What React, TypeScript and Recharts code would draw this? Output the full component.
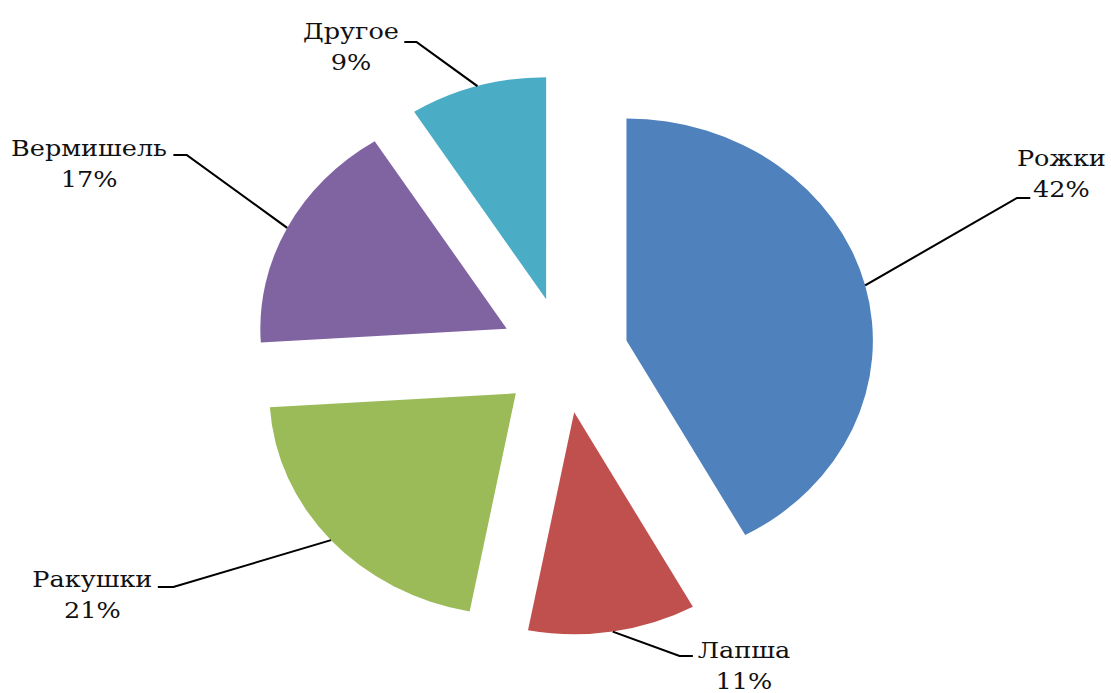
import { PieChart, Pie } from "recharts";

// pasta sales share, %
const CATEGORIES = ["Рожки", "Лапша", "Ракушки", "Вермишель", "Другое"];
const SHARES = [42, 11, 21, 17, 9];
const COLORS = ["#4F81BD", "#C0504D", "#9BBB59", "#8064A2", "#4BACC6"];

// layout (chart units, before the horizontal stretch)
const WIDTH = 992;
const HEIGHT = 684;
const STRETCH = 1.11;
const CX = 501;
const CY = 347;
const RADIUS = 222;
const EXPLODE = 58;
const LINE_GAP = 31;

// leader line elbow, its short horizontal end, and label text anchor
const LABEL_LAYOUT = [
  { elbow: [909, 190], end: [921, 190], tx: 949, ty: 158 },
  { elbow: [605, 648], end: [617, 648], tx: 663, ty: 650 },
  { elbow: [149, 579], end: [135, 579], tx: 76, ty: 579 },
  { elbow: [161, 147], end: [149, 147], tx: 73, ty: 148 },
  { elbow: [368, 34], end: [357, 34], tx: 309, ty: 31 },
];

const RAD = Math.PI / 180;
const FONT = "DejaVu Serif";
const FONT_SIZE = 23;

const total = SHARES.reduce((a, b) => a + b, 0);

// angles in recharts terms: 0 = 3 o'clock, counter-clockwise; chart starts at 12 o'clock going clockwise
let acc = 0;
const slices = SHARES.map((v, i) => {
  const startAngle = 90 - (acc / total) * 360;
  acc += v;
  const endAngle = 90 - (acc / total) * 360;
  const mid = (startAngle + endAngle) / 2;
  return {
    name: CATEGORIES[i],
    value: v,
    startAngle,
    endAngle,
    cx: CX + EXPLODE * Math.cos(mid * RAD),
    cy: CY - EXPLODE * Math.sin(mid * RAD),
  };
});

const makeLabel = (i: number) => (props: any) => {
  const { cx, cy, midAngle, outerRadius } = props;
  const x0 = cx + outerRadius * Math.cos(-midAngle * RAD);
  const y0 = cy + outerRadius * Math.sin(-midAngle * RAD);
  const l = LABEL_LAYOUT[i];
  const pct = Math.round((SHARES[i] / total) * 100);
  return (
    <g>
      <polyline
        points={`${x0},${y0} ${l.elbow[0]},${l.elbow[1]} ${l.end[0]},${l.end[1]}`}
        fill="none"
        stroke="#000"
        strokeWidth={2}
      />
      <text x={l.tx} y={l.ty} textAnchor="middle" fontFamily={FONT} fontSize={FONT_SIZE} fill="#111">
        {CATEGORIES[i]}
      </text>
      <text x={l.tx} y={l.ty + LINE_GAP} textAnchor="middle" fontFamily={FONT} fontSize={FONT_SIZE} fill="#111">
        {pct}%
      </text>
    </g>
  );
};

export default function App() {
  return (
    <div
      style={{
        position: "absolute",
        left: 8,
        top: 8,
        width: WIDTH,
        height: HEIGHT,
        transform: `scaleX(${STRETCH})`,
        transformOrigin: "0 0",
        background: "#fff",
        overflow: "hidden",
      }}
    >
      <PieChart width={WIDTH} height={HEIGHT} margin={{ top: 0, right: 0, bottom: 0, left: 0 }}>
        {slices.map((s, i) => (
          <Pie
            key={s.name}
            data={[{ name: s.name, value: s.value }]}
            dataKey="value"
            nameKey="name"
            cx={s.cx}
            cy={s.cy}
            outerRadius={RADIUS}
            startAngle={s.startAngle}
            endAngle={s.endAngle}
            fill={COLORS[i]}
            stroke="none"
            label={makeLabel(i)}
            labelLine={false}
            isAnimationActive={false}
          />
        ))}
      </PieChart>
    </div>
  );
}
